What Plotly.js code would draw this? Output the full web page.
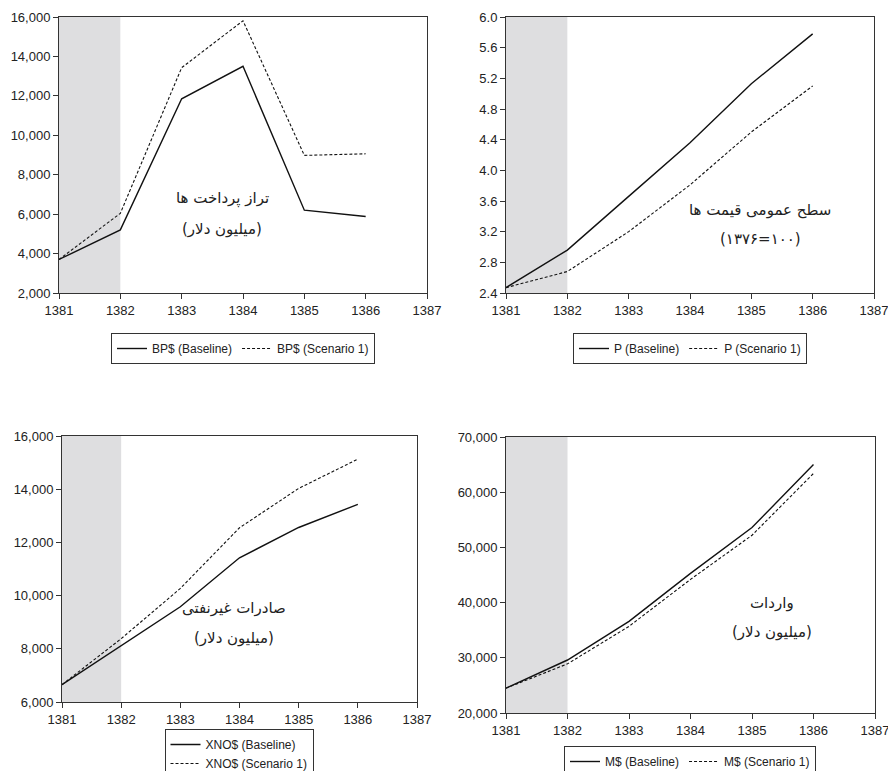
<!DOCTYPE html>
<html>
<head>
<meta charset="utf-8">
<script src="https://cdn.plot.ly/plotly-3.0.1.min.js"></script>
<style>html,body{margin:0;padding:0;background:#fff;}#chart{width:888px;height:771px;}</style>
</head>
<body>
<div id="chart"></div>
<script>
// ---- data ----
const years = [1381, 1382, 1383, 1384, 1385, 1386];
const bpBase  = [3700, 5200, 11850, 13500, 6200, 5880];
const bpScen  = [3700, 6040, 13430, 15810, 8980, 9060];
const pBase   = [2.47, 2.96, 3.66, 4.36, 5.13, 5.78];
const pScen   = [2.47, 2.68, 3.20, 3.81, 4.50, 5.10];
const xnoBase = [6650, 8100, 9580, 11420, 12560, 13430];
const xnoScen = [6650, 8380, 10270, 12550, 14030, 15130];
const mBase   = [24500, 29600, 36600, 45300, 53600, 65000];
const mScen   = [24500, 28900, 35700, 44200, 52200, 63400];

const names = [
  ['BP$ (Baseline)', 'BP$ (Scenario 1)'],
  ['P (Baseline)', 'P (Scenario 1)'],
  ['XNO$ (Baseline)', 'XNO$ (Scenario 1)'],
  ['M$ (Baseline)', 'M$ (Scenario 1)']
];
const panelLabels = [
  ['تراز پرداخت ها', '(میلیون دلار)'],
  ['سطح عمومی قیمت ها', '(۱۳۷۶=۱۰۰)'],
  ['صادرات غیرنفتی', '(میلیون دلار)'],
  ['واردات', '(میلیون دلار)']
];
const shadeStart = 1381, shadeEnd = 1382;
const xRange = [1381, 1387];
const yRanges = [[2000, 16000], [2.4, 6.0], [6000, 16000], [20000, 70000]];
const yDticks = [2000, 0.4, 2000, 10000];
const yFormats = [',d', '.1f', ',d', ',d'];

const series = [[bpBase, bpScen], [pBase, pScen], [xnoBase, xnoScen], [mBase, mScen]];

// ---- layout geometry ----
const W = 888, H = 771;
const boxes = [ // [left, right, top, bottom] in px
  [59, 427, 17, 293],
  [506, 874, 17, 293],
  [62, 417, 436, 702],
  [506, 875, 437, 713]
];
const labelPos = [[222, 199, 229], [760, 210, 239], [234, 608, 638], [772, 603, 632]];
const legendPos = [[243, 333, 'h'], [690, 333, 'h'], [239, 729, 'v'], [690, 746, 'h']];

const tickFont = {family: 'Liberation Sans, Arial, sans-serif', size: 13, color: '#222'};
const frame = '#333';

const data = [];
const layout = {
  width: W, height: H,
  margin: {l: 0, r: 0, t: 0, b: 0, autoexpand: false},
  paper_bgcolor: '#fff', plot_bgcolor: '#fff',
  showlegend: true,
  shapes: [], annotations: []
};

for (let i = 0; i < 4; i++) {
  const s = i === 0 ? '' : String(i + 1);
  const [l, r, t, b] = boxes[i];
  const leg = i === 0 ? 'legend' : 'legend' + (i + 1);
  data.push({
    x: years, y: series[i][0], type: 'scatter', mode: 'lines',
    name: names[i][0], xaxis: 'x' + s, yaxis: 'y' + s, legend: leg,
    line: {color: '#111', width: 1.4}
  });
  data.push({
    x: years, y: series[i][1], type: 'scatter', mode: 'lines',
    name: names[i][1], xaxis: 'x' + s, yaxis: 'y' + s, legend: leg,
    line: {color: '#111', width: 1.1, dash: '3px,2px'}
  });
  layout['xaxis' + s] = {
    domain: [l / W, r / W], anchor: 'y' + s, range: xRange, automargin: false,
    tickmode: 'linear', tick0: 1381, dtick: 1, ticks: 'outside', ticklen: 5,
    tickcolor: frame, showline: true, linecolor: frame, linewidth: 1, mirror: true,
    showgrid: false, zeroline: false, tickfont: tickFont, tickformat: 'd',
    ticklabeloverflow: 'allow'
  };
  layout['yaxis' + s] = {
    domain: [1 - b / H, 1 - t / H], anchor: 'x' + s, range: yRanges[i], automargin: false,
    tickmode: 'linear', tick0: yRanges[i][0], dtick: yDticks[i], ticks: 'outside', ticklen: 5,
    tickcolor: frame, showline: true, linecolor: frame, linewidth: 1, mirror: true,
    showgrid: false, zeroline: false, tickfont: tickFont, tickformat: yFormats[i],
    ticklabeloverflow: 'allow'
  };
  layout.shapes.push({
    type: 'rect', xref: 'x' + s, yref: 'y' + s + ' domain',
    x0: shadeStart, x1: shadeEnd, y0: 0, y1: 1,
    fillcolor: '#dedee0', line: {width: 0}, layer: 'below'
  });
  const [lx, ly1, ly2] = labelPos[i];
  layout.annotations.push({
    xref: 'paper', yref: 'paper', x: lx / W, y: 1 - ly1 / H, showarrow: false,
    xanchor: 'center', yanchor: 'middle',
    text: panelLabels[i][0], font: {family: 'DejaVu Sans, sans-serif', size: 15, color: '#222'}
  });
  layout.annotations.push({
    xref: 'paper', yref: 'paper', x: lx / W, y: 1 - ly2 / H, showarrow: false,
    xanchor: 'center', yanchor: 'middle',
    text: panelLabels[i][1], font: {family: 'DejaVu Sans, sans-serif', size: 15, color: '#222'}
  });
  const [gx, gy, orient] = legendPos[i];
  layout[leg] = {
    xref: 'paper', yref: 'paper',
    x: gx / W, y: 1 - gy / H, xanchor: 'center', yanchor: 'top',
    orientation: orient, bgcolor: '#fff', bordercolor: frame, borderwidth: 1,
    font: {family: 'Liberation Sans, Arial, sans-serif', size: 12, color: '#222'},
    itemwidth: 30, tracegroupgap: 0
  };
}

Plotly.newPlot('chart', data, layout, {displayModeBar: false, staticPlot: true});
</script>
</body>
</html>
